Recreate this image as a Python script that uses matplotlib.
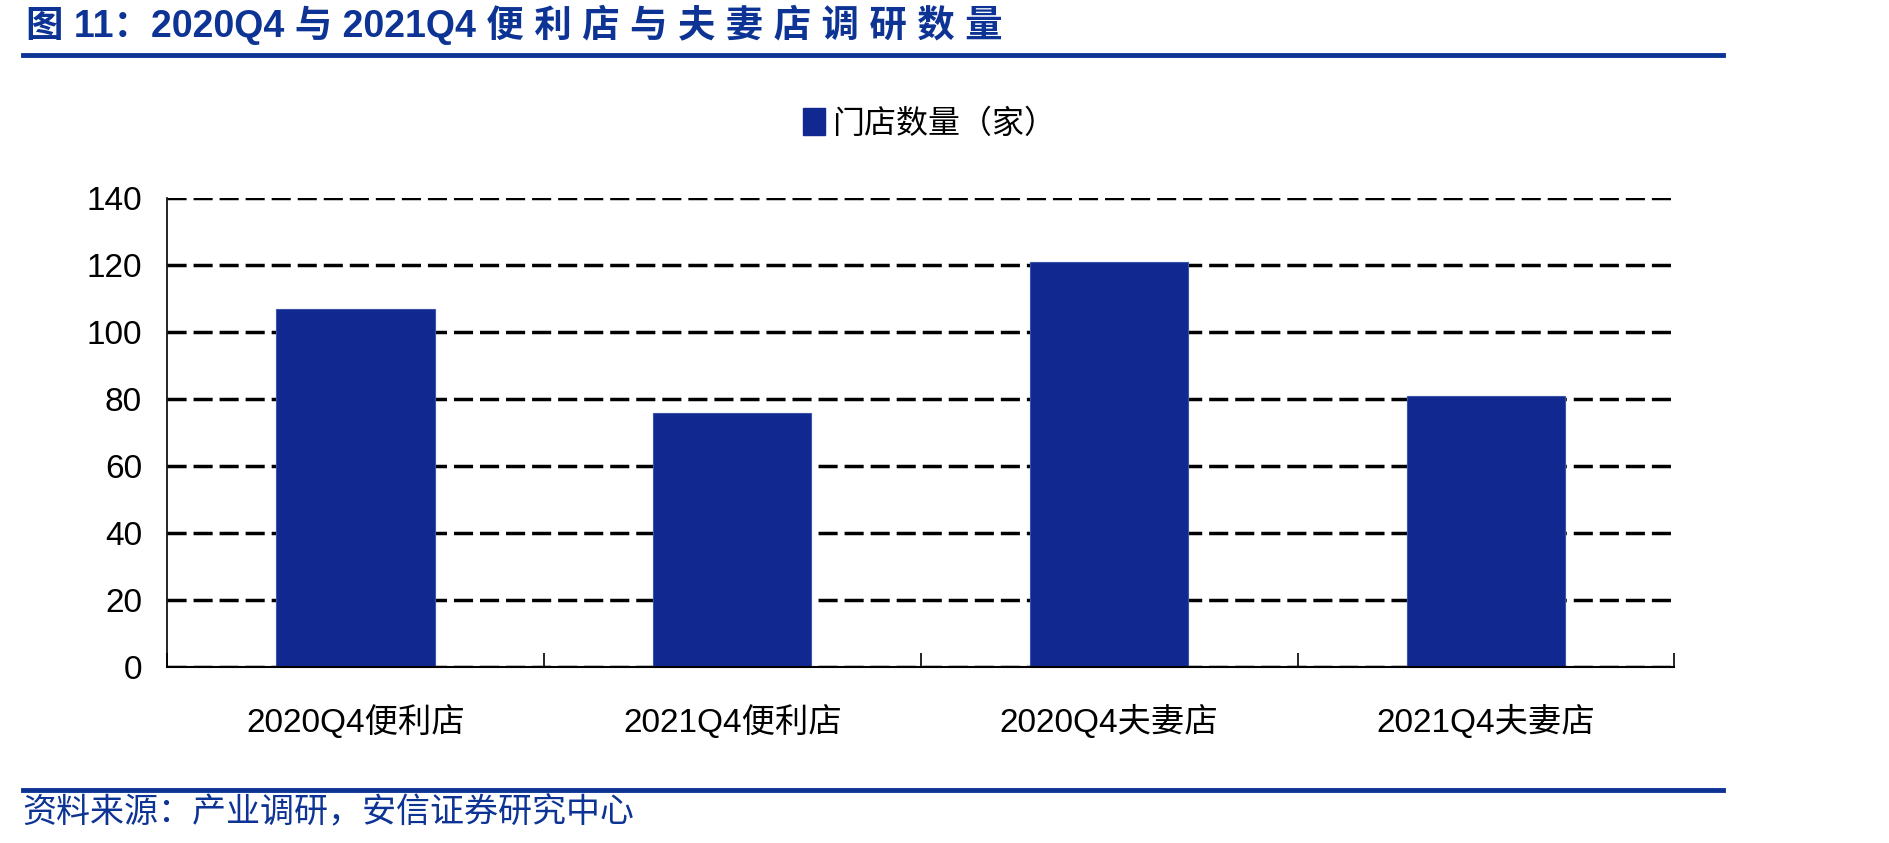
"""Bar chart: 2020Q4 vs 2021Q4 convenience store / mom-and-pop store survey counts."""
import matplotlib
matplotlib.use('Agg')
import matplotlib.pyplot as plt
from matplotlib.lines import Line2D
from matplotlib.patches import Patch

plt.rcParams['font.family'] = ['Liberation Sans', 'Noto Sans CJK SC', 'DejaVu Sans']

categories = ['2020Q4便利店', '2021Q4便利店', '2020Q4夫妻店', '2021Q4夫妻店']
store_counts = [107, 76, 121, 81]
yticks = [0, 20, 40, 60, 80, 100, 120, 140]

title = '图 11：2020Q4 与 2021Q4 便 利 店 与 夫 妻 店 调 研 数 量'
series_name = '门店数量（家）'
source = '资料来源：产业调研，安信证券研究中心'

BAR = '#10288F'
NAVY = '#0D3494'

fig = plt.figure(figsize=(18.89, 8.43), dpi=100)
ax = fig.add_axes([0.0884, 0.2088, 0.798, 0.556])

x = range(len(categories))
ax.bar(x, store_counts, width=0.42, color=BAR, edgecolor='#3A55A8', linewidth=0.8, zorder=3)

ax.set_xlim(-0.5, len(categories) - 0.5)
ax.set_ylim(0, 140)
ax.set_yticks(yticks)
ax.set_yticklabels([str(v) for v in yticks], fontsize=24)
ax.tick_params(axis='y', length=0, pad=18)

# category boundaries carry the small inward ticks
ax.set_xticks([i - 0.5 for i in range(len(categories) + 1)])
ax.set_xticklabels([])
ax.tick_params(axis='x', direction='in', length=10, width=1.2, color='black')
for i, lab in enumerate(categories):
    ax.text(i, -16.5, lab, ha='center', va='center', fontsize=24)

ax.grid(axis='y', color='black', linestyle=(0, (5.5, 2)), linewidth=2.5, zorder=1)
ax.set_axisbelow(True)
for side in ['top', 'right']:
    ax.spines[side].set_visible(False)
ax.spines['left'].set_linewidth(1.2)
ax.spines['bottom'].set_linewidth(1.5)
ax.spines['bottom'].set_zorder(4)

leg = fig.legend(handles=[Patch(facecolor=BAR, edgecolor=BAR)], labels=[series_name],
                 loc='center', bbox_to_anchor=(0.492, 0.853), frameon=False,
                 fontsize=23, handlelength=0.7, handleheight=0.9, handletextpad=0.2)

# header and footer
fig.text(0.014, 0.971, title, fontsize=27, fontweight='bold', color=NAVY, va='center', ha='left')
fig.add_artist(Line2D([0.012, 0.912], [0.935, 0.935], color=NAVY, linewidth=3.5))
fig.add_artist(Line2D([0.012, 0.912], [0.063, 0.063], color=NAVY, linewidth=3.5))
fig.text(0.012, 0.035, source, fontsize=24.5, style='italic', color=NAVY, va='center', ha='left')

fig.savefig('out.png', dpi=100)
